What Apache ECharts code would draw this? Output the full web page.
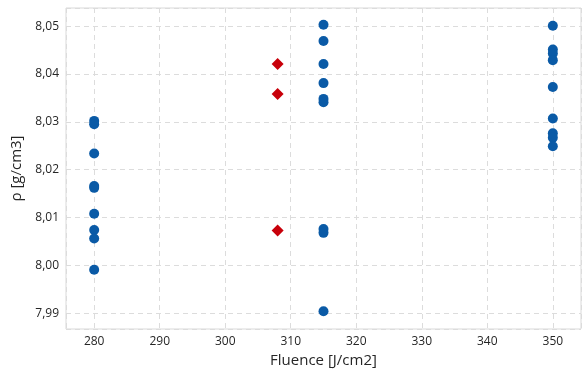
<!DOCTYPE html>
<html>
<head>
<meta charset="utf-8">
<script src="https://cdn.jsdelivr.net/npm/echarts@6/dist/echarts.min.js"></script>
<style>
  html, body { margin: 0; padding: 0; background: #fff; }
  #chart { width: 584px; height: 374px; }
</style>
</head>
<body>
<div id="chart"></div>
<script>
// measured points, [fluence, density]
const seriesNames = ['Samples', 'Reference']
const samples = [
  [280, 8.0302], [280, 8.0295], [280, 8.0234], [280, 8.0166], [280, 8.0162],
  [280, 8.0108], [280, 8.0074], [280, 8.0056], [280, 7.9991],
  [315, 8.0503], [315, 8.0469], [315, 8.0421], [315, 8.0381], [315, 8.0348],
  [315, 8.0341], [315, 8.0076], [315, 8.0068], [315, 7.9904],
  [350, 8.0501], [350, 8.0451], [350, 8.0443], [350, 8.0429], [350, 8.0373],
  [350, 8.0307], [350, 8.0276], [350, 8.0267], [350, 8.0249]
]
const reference = [[308, 8.0421], [308, 8.0358], [308, 8.0073]]
const xRange = [275.7, 354.3]
const yRange = [7.9867, 8.0538]

const chart = echarts.init(document.getElementById('chart'))
const gridLine = { show: true, lineStyle: { color: '#dcdcdc', type: [5, 4], width: 1 } }
const labelFont = { color: '#262626', fontFamily: 'Open Sans', fontSize: 12 }
const nameFont = { color: '#262626', fontFamily: 'Open Sans', fontSize: 15 }

chart.setOption({
  animation: false,
  grid: {
    left: 66,
    top: 8,
    right: 2,
    bottom: 45,
    show: true,
    borderColor: '#d9d9d9',
    borderWidth: 1
  },
  xAxis: {
    type: 'value',
    min: xRange[0],
    max: xRange[1],
    splitNumber: 8,
    minInterval: 10,
    maxInterval: 10,
    name: 'Fluence [J/cm2]',
    nameLocation: 'middle',
    nameGap: 23,
    nameTextStyle: nameFont,
    axisLine: { show: false },
    axisTick: { show: false },
    axisLabel: Object.assign({
      margin: 7,
      formatter(v) {
        return Math.abs(v % 10) < 1e-6 ? String(v) : ''
      }
    }, labelFont),
    splitLine: gridLine
  },
  yAxis: {
    type: 'value',
    min: yRange[0],
    max: yRange[1],
    splitNumber: 7,
    minInterval: 0.01,
    maxInterval: 0.01,
    name: 'ρ [g/cm3]',
    nameLocation: 'middle',
    nameGap: 35,
    nameTextStyle: nameFont,
    axisLine: { show: false },
    axisTick: { show: false },
    axisLabel: Object.assign({
      margin: 7,
      formatter(v) {
        const r = Math.round(v * 100)
        return Math.abs(v * 100 - r) < 1e-6 ? (r / 100).toFixed(2).replace('.', ',') : ''
      }
    }, labelFont),
    splitLine: gridLine
  },
  series: [
    {
      name: seriesNames[0],
      type: 'scatter',
      data: samples,
      symbol: 'circle',
      symbolSize: 10,
      itemStyle: { color: '#0a5aa6', opacity: 1 }
    },
    {
      name: seriesNames[1],
      type: 'scatter',
      data: reference,
      symbol: 'diamond',
      symbolSize: 12,
      itemStyle: { color: '#c8000a', opacity: 1 }
    }
  ]
})
</script>
</body>
</html>
